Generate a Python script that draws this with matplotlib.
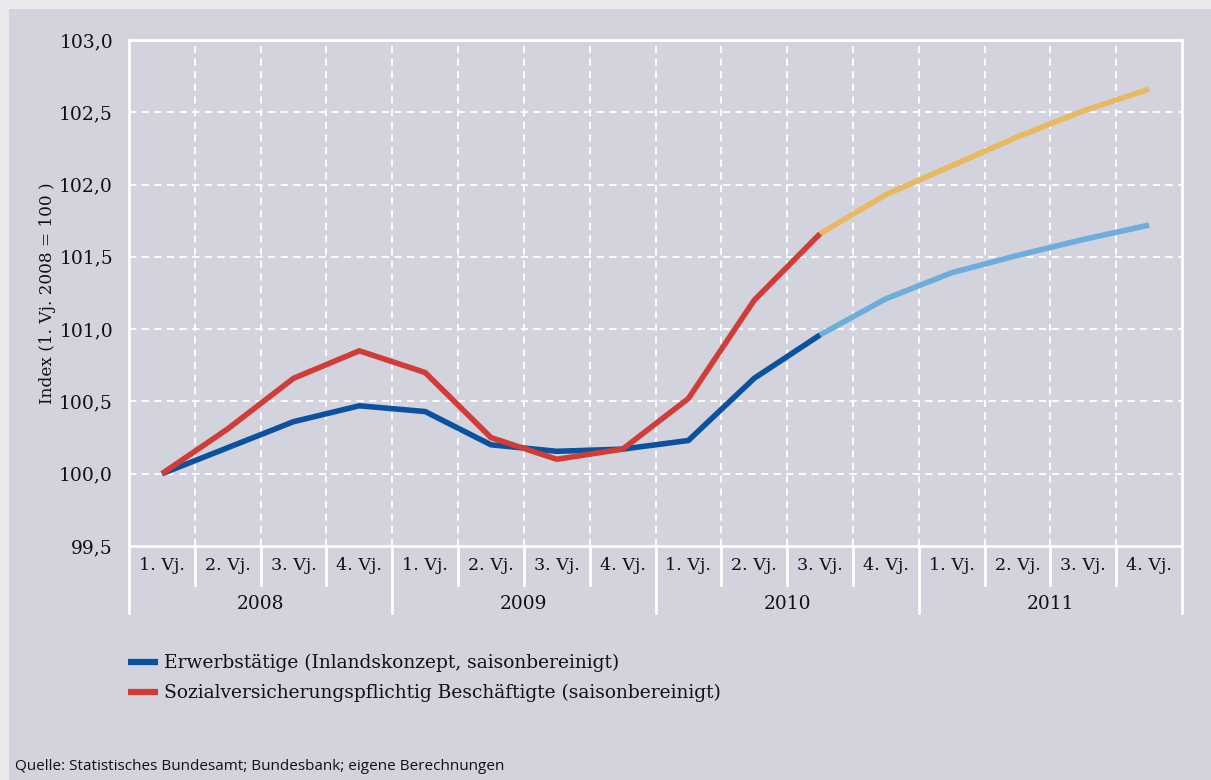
import matplotlib
matplotlib.use("Agg")
import matplotlib.pyplot as plt
from matplotlib.patches import Rectangle
from matplotlib.lines import Line2D

# Quarterly index values (1. Vj. 2008 = 100)
quarters = ["1. Vj.", "2. Vj.", "3. Vj.", "4. Vj."] * 4
years = ["2008", "2009", "2010", "2011"]

erwerbstaetige = [100.00, 100.18, 100.36, 100.47, 100.43, 100.20, 100.155, 100.17,
                  100.23, 100.66, 100.96]
erwerbstaetige_prognose = [100.96, 101.21, 101.39, 101.51, 101.62, 101.72]

sozialvers = [100.00, 100.31, 100.66, 100.85, 100.70, 100.25, 100.10, 100.17,
              100.52, 101.20, 101.66]
sozialvers_prognose = [101.66, 101.93, 102.13, 102.33, 102.51, 102.66]

y_ticks = [99.5, 100.0, 100.5, 101.0, 101.5, 102.0, 102.5, 103.0]

label_blue = "Erwerbstätige (Inlandskonzept, saisonbereinigt)"
label_red = "Sozialversicherungspflichtig Beschäftigte (saisonbereinigt)"
source = "Quelle: Statistisches Bundesamt; Bundesbank; eigene Berechnungen"

c_blue = "#0a52a0"
c_red = "#d13c37"
c_lblue = "#6caddb"
c_yellow = "#e8b962"
c_panel = "#d3d3dd"
c_outer = "#e9e9ee"
c_text = "#111111"
serif = ["DejaVu Serif"]

W, H = 1211, 780
fig = plt.figure(figsize=(W / 100, H / 100), dpi=100)
fig.patch.set_facecolor(c_outer)
fig.patches.append(Rectangle((9 / W, 0), 1, 1 - 9 / H, transform=fig.transFigure,
                             facecolor=c_panel, edgecolor="none", zorder=-10))

x0, x1, ytop, ybot = 129, 1182, 40, 546
ax = fig.add_axes([x0 / W, 1 - ybot / H, (x1 - x0) / W, (ybot - ytop) / H])
ax.set_facecolor(c_panel)
ax.set_xlim(0, 16)
ax.set_ylim(99.5, 103.0)

# dashed white grid
for yv in y_ticks[1:-1]:
    ax.axhline(yv, color="white", lw=1.3, ls=(0, (4, 3)), zorder=1)
for xv in range(1, 16):
    ax.axvline(xv, color="white", lw=1.3, ls=(0, (4, 3)), zorder=1)

for s in ax.spines.values():
    s.set_color("white")
    s.set_linewidth(2)

n_hist = len(erwerbstaetige)
xs_hist = [i + 0.5 for i in range(n_hist)]
xs_prog = [i + 0.5 for i in range(n_hist - 1, n_hist - 1 + len(erwerbstaetige_prognose))]

lw = 4
ax.plot(xs_prog, erwerbstaetige_prognose, color=c_lblue, lw=lw, zorder=3, solid_capstyle="butt")
ax.plot(xs_prog, sozialvers_prognose, color=c_yellow, lw=lw, zorder=3, solid_capstyle="butt")
ax.plot(xs_hist, erwerbstaetige, color=c_blue, lw=lw, zorder=4, solid_capstyle="butt")
ax.plot(xs_hist, sozialvers, color=c_red, lw=lw, zorder=5, solid_capstyle="butt")

ax.set_xticks([])
ax.set_yticks(y_ticks)
ax.set_yticklabels([f"{v:.1f}".replace(".", ",") for v in y_ticks],
                   fontsize=13.5, family=serif, color=c_text)
ax.tick_params(axis="y", length=0, pad=11.5)
ax.set_ylabel("Index (1. Vj. 2008 = 100 )", fontsize=12.2, family=serif, color=c_text)
ax.yaxis.set_label_coords(-0.069, 0.5)

# category axis below the plot
trans = ax.get_xaxis_transform()
def yfig(py):
    # pixel row -> axes-fraction y
    return (ybot - py) / (ybot - ytop)

for i in range(1, 16):
    bottom = 613 if i % 4 == 0 else 585
    ax.add_line(Line2D([i, i], [0, yfig(bottom)], transform=trans, color="white",
                       lw=2, clip_on=False))
for i in (0, 16):
    ax.add_line(Line2D([i, i], [0, yfig(613)], transform=trans, color="white",
                       lw=2, clip_on=False))

for i, q in enumerate(quarters):
    ax.text(i + 0.5, yfig(566), q, transform=trans, ha="center", va="center",
            fontsize=12.6, family=serif, color=c_text)
for j, yr in enumerate(years):
    ax.text(4 * j + 2, yfig(604), yr, transform=trans, ha="center", va="center",
            fontsize=13.4, family=serif, color=c_text)

# legend
for py, col, txt in ((662, c_blue, label_blue), (692, c_red, label_red)):
    fig.add_artist(Line2D([128 / W, 158 / W], [1 - py / H, 1 - py / H], color=col,
                          lw=4.5, solid_capstyle="butt"))
    fig.text(164 / W, 1 - (py + 1) / H, txt, ha="left", va="center", fontsize=13.4,
             family=serif, color=c_text)

fig.text(15 / W, 1 - 767 / H, source, ha="left", va="center", fontsize=11,
         family=["Open Sans", "DejaVu Sans"], color=c_text)

fig.savefig("out.png", dpi=100, facecolor=fig.get_facecolor())
